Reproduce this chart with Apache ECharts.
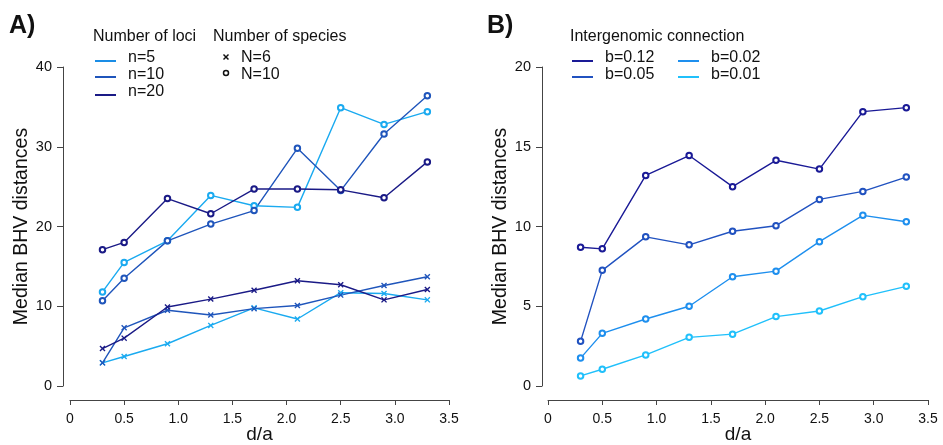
<!DOCTYPE html>
<html>
<head>
<meta charset="utf-8">
<script src="https://cdn.jsdelivr.net/npm/echarts@6/dist/echarts.min.js"></script>
<style>html,body{margin:0;padding:0;background:#fff}#c{width:943px;height:445px}</style>
</head>
<body>
<div id="c"></div>
<script>
// ---- data ----
var dA = [0.3, 0.5, 0.9, 1.3, 1.7, 2.1, 2.5, 2.9, 3.3];
// Panel A: N=10 (circles)
var n5_N10  = [11.8, 15.5, 18.2, 23.9, 22.6, 22.4, 34.9, 32.8, 34.4];
var n10_N10 = [10.7, 13.5, 18.2, 20.3, 22.0, 29.8, 24.5, 31.6, 36.4];
var n20_N10 = [17.1, 18.0, 23.5, 21.6, 24.7, 24.7, 24.6, 23.6, 28.1];
// Panel A: N=6 (crosses)
var n5_N6   = [2.9, 3.7, 5.3, 7.6, 9.8, 8.4, 11.7, 11.6, 10.8];
var n10_N6  = [2.9, 7.3, 9.5, 8.9, 9.7, 10.1, 11.4, 12.6, 13.7];
var n20_N6  = [4.7, 6.0, 9.9, 10.9, 12.0, 13.2, 12.7, 10.8, 12.1];
// Panel B
var b012 = [8.7, 8.6, 13.2, 14.45, 12.5, 14.15, 13.6, 17.2, 17.45];
var b005 = [2.8, 7.25, 9.35, 8.85, 9.7, 10.05, 11.7, 12.2, 13.1];
var b002 = [1.75, 3.3, 4.2, 5.0, 6.85, 7.2, 9.05, 10.7, 10.3];
var b001 = [0.63, 1.05, 1.95, 3.05, 3.25, 4.35, 4.7, 5.6, 6.25];
var xTickLabels = ['0', '0.5', '1.0', '1.5', '2.0', '2.5', '3.0', '3.5'];
var yTickLabelsA = ['0', '10', '20', '30', '40'];
var yTickLabelsB = ['0', '5', '10', '15', '20'];

// ---- styles ----
var F = 'Liberation Sans, Arial, sans-serif';
var cLight = '#1aaaf0', cMed = '#1f55bb', cDark = '#1a1a86';
var cB = ['#1a1a96', '#2152c0', '#1e8fee', '#20c0fb'];
var CROSS = 'path://M0,1.6L1.6,0L5,3.4L8.4,0L10,1.6L6.6,5L10,8.4L8.4,10L5,6.6L1.6,10L0,8.4L3.4,5Z';

function pairs(ys) { return ys.map(function (y, i) { return [dA[i], y]; }); }
function ser(ys, color, sym, axis) {
  var isCross = sym === 'cross';
  return {
    type: 'line', xAxisIndex: axis, yAxisIndex: axis, data: pairs(ys),
    symbol: isCross ? CROSS : 'emptyCircle', symbolSize: isCross ? 6 : 5.5,
    showSymbol: true, animation: false,
    lineStyle: { color: color, width: 1.4 },
    itemStyle: { color: color, borderColor: color, borderWidth: isCross ? 0 : 1.4 },
    emphasis: { disabled: true }
  };
}
function xAx(grid) {
  return {
    gridIndex: grid, type: 'value', min: 0, max: 3.5, interval: 0.5, offset: 14,
    name: 'd/a', nameLocation: 'middle', nameGap: 25, nameMoveOverlap: false,
    nameTextStyle: { fontFamily: F, fontSize: 19, color: '#111' },
    axisLine: { show: true, onZero: false, lineStyle: { color: '#444', width: 1 } },
    axisTick: { show: true, length: 5, lineStyle: { color: '#444' } },
    axisLabel: { fontFamily: F, fontSize: 14, color: '#111', margin: 12,
      formatter: function (v) { return xTickLabels[Math.round(v / 0.5)]; } },
    splitLine: { show: false }
  };
}
function yAx(grid, max, labels, off) {
  return {
    gridIndex: grid, type: 'value', min: 0, max: max, interval: max / 4, offset: off,
    name: 'Median BHV distances', nameLocation: 'middle', nameGap: 31,
    nameTextStyle: { fontFamily: F, fontSize: 19.5, color: '#111' },
    axisLine: { show: true, onZero: false, lineStyle: { color: '#444', width: 1 } },
    axisTick: { show: true, length: 6, lineStyle: { color: '#444' } },
    axisLabel: { fontFamily: F, fontSize: 14.5, color: '#111', margin: 11,
      formatter: function (v) { return labels[Math.round(v / (max / 4))]; } },
    splitLine: { show: false }
  };
}
function txt(x, y, s, size, bold) {
  return { type: 'text', x: x, y: y, style: { text: s, font: (bold ? 'bold ' : '') + size + 'px ' + F, fill: '#111' } };
}
function lg(x, y, color) {
  return { type: 'line', shape: { x1: x, y1: y, x2: x + 21, y2: y }, style: { stroke: color, lineWidth: 2 } };
}
function seg(x1, y1, x2, y2) {
  return { type: 'line', shape: { x1: x1, y1: y1, x2: x2, y2: y2 }, style: { stroke: '#111', lineWidth: 1.5 } };
}

var chart = echarts.init(document.getElementById('c'), null, { renderer: 'canvas' });
chart.setOption({
  backgroundColor: '#fff',
  animation: false,
  grid: [
    { left: 70, top: 67, width: 379, height: 319, containLabel: false, outerBoundsMode: 'none' },
    { left: 548, top: 67, width: 380, height: 319, containLabel: false, outerBoundsMode: 'none' }
  ],
  xAxis: [xAx(0), xAx(1)],
  yAxis: [yAx(0, 40, yTickLabelsA, 7), yAx(1, 20, yTickLabelsB, 6)],
  series: [
    ser(n5_N10, cLight, 'circle', 0), ser(n10_N10, cMed, 'circle', 0), ser(n20_N10, cDark, 'circle', 0),
    ser(n5_N6, cLight, 'cross', 0), ser(n10_N6, cMed, 'cross', 0), ser(n20_N6, cDark, 'cross', 0),
    ser(b001, cB[3], 'circle', 1), ser(b002, cB[2], 'circle', 1), ser(b005, cB[1], 'circle', 1), ser(b012, cB[0], 'circle', 1)
  ],
  graphic: [
    txt(9, 14, 'A)', 25, true),
    txt(487, 14, 'B)', 25, true),
    txt(93, 29, 'Number of loci', 16),
    txt(213, 29, 'Number of species', 16),
    lg(95, 61, '#1a8de6'), txt(128, 50, 'n=5', 16),
    lg(95, 77, cMed), txt(128, 67, 'n=10', 16),
    lg(95, 95, cDark), txt(128, 84, 'n=20', 16),
    seg(223.5, 54.5, 228.5, 59.5), seg(228.5, 54.5, 223.5, 59.5),
    txt(241, 50, 'N=6', 16),
    { type: 'circle', shape: { cx: 226, cy: 73, r: 2.5 }, style: { stroke: '#111', lineWidth: 1.5, fill: '#fff' } },
    txt(241, 67, 'N=10', 16),
    txt(570, 29, 'Intergenomic connection', 16),
    lg(572, 61, cB[0]), txt(605, 50, 'b=0.12', 16),
    lg(572, 77, cB[1]), txt(605, 67, 'b=0.05', 16),
    lg(678, 61, cB[2]), txt(711, 50, 'b=0.02', 16),
    lg(678, 77, cB[3]), txt(711, 67, 'b=0.01', 16)
  ]
});
</script>
</body>
</html>
